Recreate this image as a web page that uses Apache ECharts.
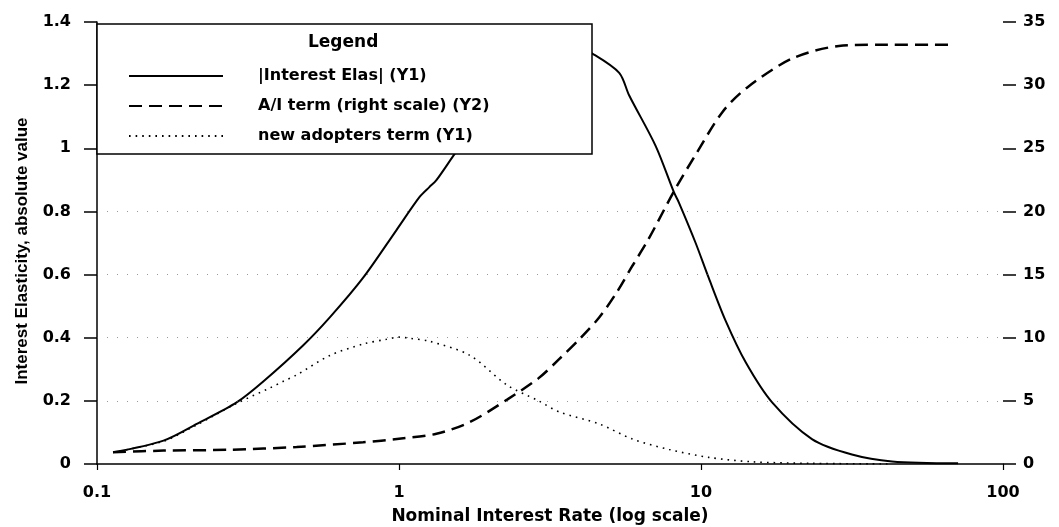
<!DOCTYPE html>
<html>
<head>
<meta charset="utf-8">
<script src="https://cdn.jsdelivr.net/npm/echarts@6/dist/echarts.min.js"></script>
<style>
  html, body { margin: 0; padding: 0; background: #fff; }
  #chart { width: 1059px; height: 527px; }
</style>
</head>
<body>
<div id="chart"></div>
<script>
// |Interest Elas| (left scale)
const elasRate  = [0.113, 0.166, 0.214, 0.29, 0.356, 0.482, 0.591, 0.761, 0.981, 1.17, 1.26, 1.33, 1.55, 2.0, 2.5, 3.0, 3.6, 4.37, 5.36, 5.78, 7.08, 8.14, 8.45, 9.6, 10.6, 12.06, 14.06, 17.2, 23.3, 31.6, 42.9, 71];
const elasValue = [0.037, 0.074, 0.127, 0.195, 0.262, 0.376, 0.465, 0.590, 0.741, 0.846, 0.877, 0.899, 0.99, 1.13, 1.24, 1.31, 1.34, 1.30, 1.239, 1.168, 1.007, 0.860, 0.828, 0.700, 0.590, 0.454, 0.322, 0.195, 0.079, 0.030, 0.008, 0.002];

// A/I term (right scale)
const aiRate  = [0.113, 0.166, 0.276, 0.458, 0.761, 1.0, 1.33, 1.71, 2.28, 2.9, 3.39, 4.0, 4.6, 5.23, 5.93, 6.7, 8.14, 9.6, 11.8, 14.2, 20.0, 28.6, 38.7, 67.7];
const aiValue = [0.93, 1.06, 1.13, 1.35, 1.72, 2.0, 2.39, 3.3, 5.1, 6.8, 8.3, 10.0, 11.6, 13.5, 15.7, 17.8, 21.6, 24.5, 27.9, 29.8, 32.1, 33.1, 33.2, 33.2];

// new adopters term (left scale)
const adoptRate  = [0.113, 0.166, 0.214, 0.29, 0.374, 0.414, 0.458, 0.591, 0.761, 0.909, 1.0, 1.09, 1.26, 1.71, 2.28, 2.9, 3.39, 4.6, 5.93, 7.84, 10.6, 14.8, 23.3, 42.9];
const adoptValue = [0.037, 0.072, 0.124, 0.192, 0.241, 0.262, 0.282, 0.344, 0.380, 0.395, 0.402, 0.398, 0.389, 0.345, 0.25, 0.2, 0.165, 0.127, 0.079, 0.046, 0.021, 0.007, 0.002, 0.0];

const seriesNames = ['|Interest Elas| (Y1)', 'A/I term (right scale) (Y2)', 'new adopters term (Y1)'];
const rateTicks = [0.1, 1, 10, 100];
const gridLevels = [0.2, 0.4, 0.6, 0.8];

const pairs = (xs, ys) => xs.map((x, i) => [x, ys[i]]);

const boldFont = { fontFamily: 'DejaVu Sans', fontWeight: 'bold', color: '#000' };

const chart = echarts.init(document.getElementById('chart'), null, { renderer: 'canvas' });

chart.setOption({
  backgroundColor: '#fff',
  animation: false,
  grid: { left: 97, right: 56, top: 22, bottom: 63, outerBoundsMode: 'none' },
  // the title box doubles as the white legend frame, drawn above the curves
  title: {
    text: 'Legend',
    left: 97,
    top: 24,
    z: 10,
    padding: [9, 214, 101, 211],
    backgroundColor: '#ffffff',
    borderColor: '#000',
    borderWidth: 1.5,
    textStyle: Object.assign({ fontSize: 17, lineHeight: 20 }, boldFont)
  },
  legend: {
    z: 12,
    orient: 'vertical',
    left: 128,
    top: 68,
    itemWidth: 94,
    itemHeight: 14,
    itemGap: 14,
    padding: 0,
    data: seriesNames,
    itemStyle: { opacity: 0 },
    textStyle: Object.assign({ fontSize: 16, padding: [0, 0, 0, 30] }, boldFont)
  },
  xAxis: {
    type: 'log',
    logBase: 10,
    min: rateTicks[0],
    max: rateTicks[rateTicks.length - 1],
    name: 'Nominal Interest Rate (log scale)',
    nameLocation: 'middle',
    nameGap: 44,
    nameTextStyle: Object.assign({ fontSize: 17 }, boldFont),
    axisLine: { lineStyle: { color: '#000', width: 1.5 } },
    axisTick: { show: true, length: 6, lineStyle: { color: '#000', width: 1.2 } },
    minorTick: { show: false },
    splitLine: { show: false },
    axisLabel: Object.assign({ fontSize: 16, margin: 21, formatter: v => String(v) }, boldFont)
  },
  yAxis: [
    {
      type: 'value',
      min: 0, max: 1.4, interval: 0.2,
      name: 'Interest Elasticity, absolute value',
      nameLocation: 'middle',
      nameGap: 66,
      nameTextStyle: { fontFamily: 'Liberation Sans', fontWeight: 'bold', fontSize: 17, color: '#000', padding: [0, 16, 0, 0] },
      axisLine: { show: true, lineStyle: { color: '#000', width: 1.5 } },
      axisTick: { show: true, length: 13, lineStyle: { color: '#000', width: 1.5 } },
      splitLine: { show: false },
      axisLabel: Object.assign({ fontSize: 16, margin: 26 }, boldFont)
    },
    {
      type: 'value',
      min: 0, max: 35, interval: 5,
      position: 'right',
      axisLine: { show: false },
      axisTick: { show: true, length: 13, lineStyle: { color: '#000', width: 1.5 } },
      splitLine: { show: false },
      axisLabel: Object.assign({ fontSize: 16, margin: 20 }, boldFont)
    }
  ],
  series: [
    {
      name: seriesNames[0],
      type: 'line',
      z: 1,
      yAxisIndex: 0,
      data: pairs(elasRate, elasValue),
      smooth: 0.3,
      symbol: 'none',
      lineStyle: { color: '#000', width: 2 },
      itemStyle: { color: '#000' },
      markLine: {
        silent: true,
        symbol: 'none',
        label: { show: false },
        lineStyle: { color: '#555', width: 1, type: [1, 9], opacity: 0.6 },
        data: gridLevels.map(v => ({ yAxis: v }))
      }
    },
    {
      name: seriesNames[1],
      type: 'line',
      z: 1,
      yAxisIndex: 1,
      data: pairs(aiRate, aiValue),
      smooth: 0.3,
      symbol: 'none',
      lineStyle: { color: '#000', width: 2.5, type: [13, 7] },
      itemStyle: { color: '#000' }
    },
    {
      name: seriesNames[2],
      type: 'line',
      z: 1,
      yAxisIndex: 0,
      data: pairs(adoptRate, adoptValue),
      smooth: 0.3,
      symbol: 'none',
      lineStyle: { color: '#000', width: 1.6, type: [1.6, 5] },
      itemStyle: { color: '#000' }
    }
  ]
});
</script>
</body>
</html>
